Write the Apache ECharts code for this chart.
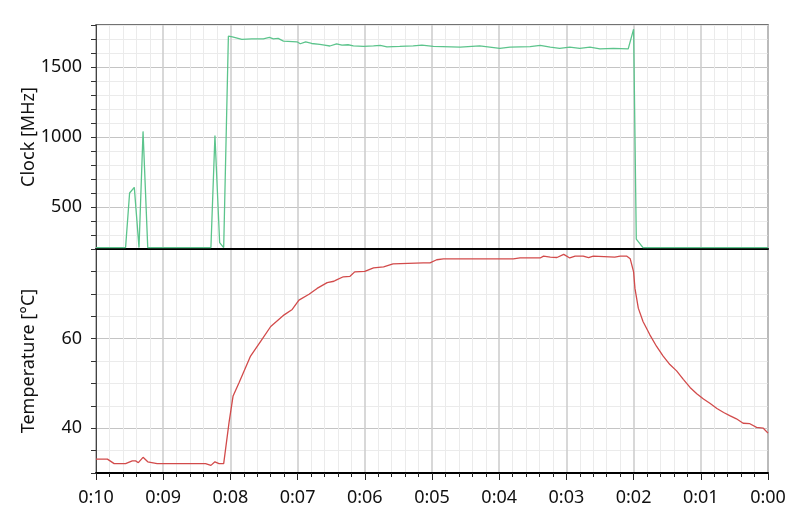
<!DOCTYPE html>
<html>
<head>
<meta charset="utf-8">
<script src="https://cdn.jsdelivr.net/npm/echarts@6/dist/echarts.min.js"></script>
<style>
  html, body { margin: 0; padding: 0; background: #fff; }
  #chart { width: 800px; height: 524px; }
</style>
</head>
<body>
<div id="chart"></div>
<script>
// minutes before the end (0:10 on the left, 0:00 on the right)
const clockTime = [10, 9.56, 9.5, 9.43, 9.36, 9.3, 9.23, 8.29, 8.23, 8.16, 8.1, 8.03, 7.97, 7.83, 7.68, 7.51, 7.42, 7.36, 7.29, 7.21, 7.01, 6.96, 6.88, 6.79, 6.67, 6.6, 6.52, 6.42, 6.34, 6.25, 6.17, 6.02, 5.87, 5.77, 5.67, 5.48, 5.28, 5.15, 4.98, 4.58, 4.29, 4.14, 3.99, 3.84, 3.54, 3.39, 3.24, 3.1, 2.95, 2.8, 2.65, 2.5, 2.3, 2.08, 2.0, 1.96, 1.86, 0]
const clockMHz = [210, 210, 600, 640, 210, 1040, 210, 210, 1010, 245, 210, 1720, 1715, 1697, 1701, 1701, 1711, 1701, 1704, 1685, 1680, 1666, 1680, 1668, 1661, 1656, 1650, 1666, 1656, 1659, 1651, 1647, 1651, 1654, 1644, 1647, 1651, 1656, 1647, 1642, 1651, 1642, 1633, 1642, 1645, 1654, 1642, 1633, 1642, 1633, 1642, 1630, 1633, 1630, 1770, 270, 210, 210]

const tempTime = [10, 9.83, 9.73, 9.56, 9.46, 9.41, 9.37, 9.3, 9.23, 9.09, 8.37, 8.29, 8.23, 8.17, 8.1, 8.02, 7.96, 7.87, 7.7, 7.55, 7.4, 7.2, 7.08, 6.98, 6.83, 6.71, 6.56, 6.46, 6.42, 6.32, 6.22, 6.15, 6.0, 5.87, 5.72, 5.58, 5.13, 5.03, 4.93, 4.83, 3.79, 3.69, 3.39, 3.34, 3.24, 3.14, 3.04, 2.95, 2.87, 2.75, 2.67, 2.6, 2.28, 2.2, 2.1, 2.05, 2.0, 1.98, 1.93, 1.86, 1.76, 1.66, 1.56, 1.46, 1.36, 1.26, 1.16, 1.06, 0.96, 0.86, 0.76, 0.66, 0.57, 0.47, 0.37, 0.27, 0.17, 0.07, 0]
const tempC = [33.1, 33.1, 32.1, 32.1, 32.7, 32.7, 32.3, 33.5, 32.5, 32.1, 32.1, 31.7, 32.5, 32.1, 32.1, 41.3, 47.2, 50.2, 56.1, 59.4, 62.7, 65.3, 66.5, 68.6, 69.9, 71.2, 72.5, 72.8, 73.1, 73.8, 73.9, 74.9, 75.0, 75.8, 76.0, 76.7, 76.9, 76.9, 77.6, 77.8, 77.8, 78.0, 78.0, 78.4, 78.2, 78.1, 78.8, 78.0, 78.4, 78.4, 78.1, 78.4, 78.2, 78.4, 78.4, 77.8, 74.9, 71.2, 66.8, 63.8, 60.9, 58.3, 56.1, 54.2, 52.8, 50.9, 49.1, 47.7, 46.5, 45.5, 44.4, 43.5, 42.8, 42.1, 41.1, 41.0, 40.2, 40.0, 38.9]

const clockLabels = [500, 1000, 1500]
const tempLabels = [40, 60]

const font = 'Noto Sans'
const fontSize = 18
const major = '#c4c4c4'
const minor = '#ebebeb'

const chart = echarts.init(document.getElementById('chart'))

function xAxisFor(grid, withLabels) {
  return {
    type: 'value',
    gridIndex: grid,
    min: 0,
    max: 10,
    interval: 1,
    inverse: true,
    axisLine: { show: true, onZero: false, lineStyle: { color: '#000', width: 2 } },
    axisTick: { show: withLabels, length: 7, lineStyle: { color: '#222' } },
    minorTick: { show: withLabels, splitNumber: 5, length: 4, lineStyle: { color: '#222' } },
    axisLabel: {
      show: withLabels,
      margin: 16,
      fontFamily: font,
      fontSize: fontSize,
      color: '#111',
      formatter: v => '0:' + String(Math.round(v)).padStart(2, '0'),
    },
    splitLine: { show: true, lineStyle: { color: '#cfcfcf', width: 1.6 } },
    minorSplitLine: { show: true, lineStyle: { color: minor, width: 1 } },
  }
}

function yAxisFor(grid, name, min, max, step, labels, colors) {
  return {
    type: 'value',
    gridIndex: grid,
    position: 'left',
    min: min,
    max: max,
    interval: step,
    name: name,
    nameLocation: 'middle',
    nameGap: 58,
    nameMoveOverlap: false,
    nameTextStyle: { fontFamily: font, fontSize: fontSize, color: '#111' },
    axisLine: { show: true, onZero: false, lineStyle: { color: '#444' } },
    axisTick: { show: true, length: 5, lineStyle: { color: '#333' } },
    axisLabel: {
      margin: 14,
      fontFamily: font,
      fontSize: fontSize,
      color: '#111',
      formatter: v => (labels.includes(v) ? String(v) : ''),
    },
    splitLine: { show: true, lineStyle: { color: colors } },
  }
}

const option = {
  animation: false,
  grid: [
    { left: 96, right: 32, top: 25, height: 224, show: true, borderColor: '#444', borderWidth: 1.5 },
    { left: 96, right: 32, top: 249, height: 224, show: true, borderColor: '#444', borderWidth: 1.5 },
  ],
  xAxis: [xAxisFor(0, false), xAxisFor(1, true)],
  yAxis: [
    yAxisFor(0, 'Clock [MHz]', 200, 1800, 100, clockLabels, [minor, minor, minor, major, minor]),
    yAxisFor(1, 'Temperature [°C]', 30, 80, 5, tempLabels, [minor, minor, major, minor]),
  ],
  series: [
    {
      name: 'Clock',
      type: 'line',
      xAxisIndex: 0,
      yAxisIndex: 0,
      showSymbol: false,
      lineStyle: { color: '#5cc48c', width: 1.3 },
      data: clockTime.map((t, i) => [t, clockMHz[i]]),
      z: 5,
    },
    {
      name: 'Temperature',
      type: 'line',
      xAxisIndex: 1,
      yAxisIndex: 1,
      showSymbol: false,
      lineStyle: { color: '#d24b4b', width: 1.3 },
      data: tempTime.map((t, i) => [t, tempC[i]]),
      z: 5,
    },
  ],
}

chart.setOption(option)
</script>
</body>
</html>
